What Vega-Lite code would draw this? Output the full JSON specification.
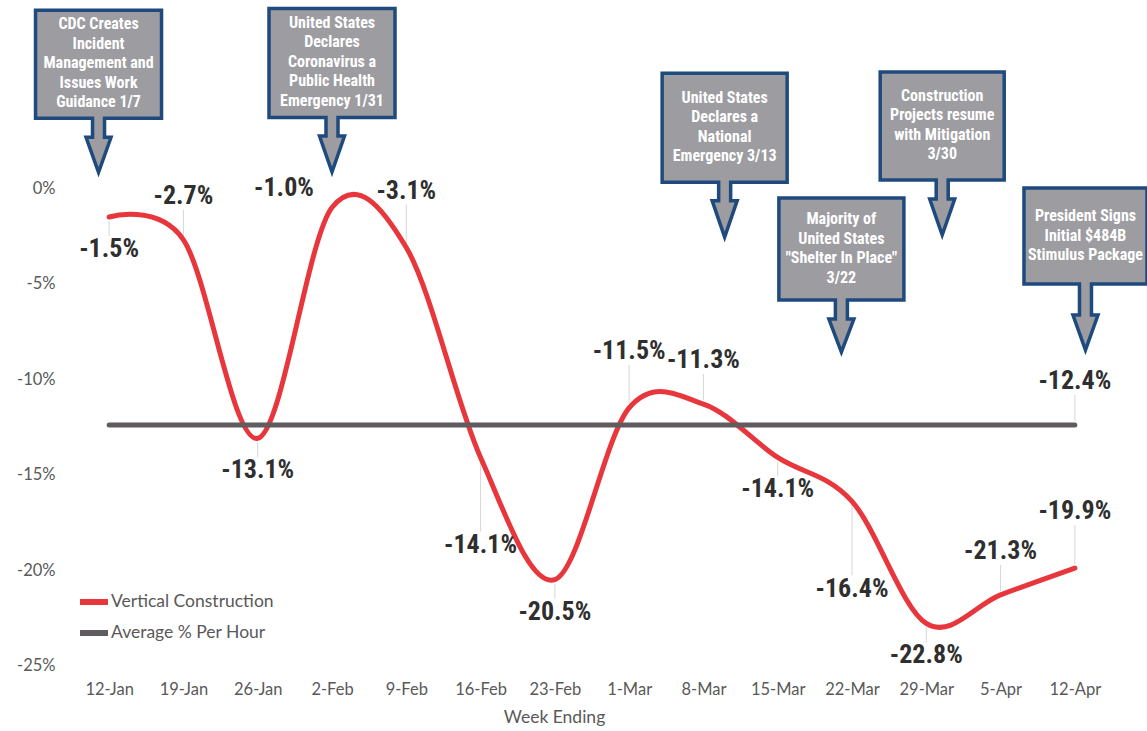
{
  "$schema": "https://vega.github.io/schema/vega-lite/v6.json",
  "width": 1040,
  "height": 675,
  "autosize": {"type": "none"},
  "padding": {"left": 72, "top": 0, "right": 35, "bottom": 56},
  "background": "white",
  "config": {"view": {"stroke": null}, "font": "Lato"},
  "datasets": {
    "series": [
      {"week": "2020/01/12", "series": "Vertical Construction", "value": -1.5, "label": "-1.5%", "side": "below"},
      {"week": "2020/01/19", "series": "Vertical Construction", "value": -2.7, "label": "-2.7%", "side": "above"},
      {"week": "2020/01/26", "series": "Vertical Construction", "value": -13.1, "label": "-13.1%", "side": "below"},
      {"week": "2020/02/02", "series": "Vertical Construction", "value": -1.0, "label": "-1.0%", "side": "left"},
      {"week": "2020/02/09", "series": "Vertical Construction", "value": -3.1, "label": "-3.1%", "side": "high"},
      {"week": "2020/02/16", "series": "Vertical Construction", "value": -14.1, "label": "-14.1%", "side": "farBelow"},
      {"week": "2020/02/23", "series": "Vertical Construction", "value": -20.5, "label": "-20.5%", "side": "below"},
      {"week": "2020/03/01", "series": "Vertical Construction", "value": -11.5, "label": "-11.5%", "side": "high"},
      {"week": "2020/03/08", "series": "Vertical Construction", "value": -11.3, "label": "-11.3%", "side": "above"},
      {"week": "2020/03/15", "series": "Vertical Construction", "value": -14.1, "label": "-14.1%", "side": "below"},
      {"week": "2020/03/22", "series": "Vertical Construction", "value": -16.4, "label": "-16.4%", "side": "farBelow"},
      {"week": "2020/03/29", "series": "Vertical Construction", "value": -22.8, "label": "-22.8%", "side": "below"},
      {"week": "2020/04/05", "series": "Vertical Construction", "value": -21.3, "label": "-21.3%", "side": "above"},
      {"week": "2020/04/12", "series": "Vertical Construction", "value": -19.9, "label": "-19.9%", "side": "high"},
      {"week": "2020/01/12", "series": "Average % Per Hour", "value": -12.4, "label": null, "side": null},
      {"week": "2020/01/19", "series": "Average % Per Hour", "value": -12.4, "label": null, "side": null},
      {"week": "2020/01/26", "series": "Average % Per Hour", "value": -12.4, "label": null, "side": null},
      {"week": "2020/02/02", "series": "Average % Per Hour", "value": -12.4, "label": null, "side": null},
      {"week": "2020/02/09", "series": "Average % Per Hour", "value": -12.4, "label": null, "side": null},
      {"week": "2020/02/16", "series": "Average % Per Hour", "value": -12.4, "label": null, "side": null},
      {"week": "2020/02/23", "series": "Average % Per Hour", "value": -12.4, "label": null, "side": null},
      {"week": "2020/03/01", "series": "Average % Per Hour", "value": -12.4, "label": null, "side": null},
      {"week": "2020/03/08", "series": "Average % Per Hour", "value": -12.4, "label": null, "side": null},
      {"week": "2020/03/15", "series": "Average % Per Hour", "value": -12.4, "label": null, "side": null},
      {"week": "2020/03/22", "series": "Average % Per Hour", "value": -12.4, "label": null, "side": null},
      {"week": "2020/03/29", "series": "Average % Per Hour", "value": -12.4, "label": null, "side": null},
      {"week": "2020/04/05", "series": "Average % Per Hour", "value": -12.4, "label": null, "side": null},
      {"week": "2020/04/12", "series": "Average % Per Hour", "value": -12.4, "label": "-12.4%", "side": "above"}
    ],
    "notes": [
      {"id": "a1", "week": "2020/01/11", "value": 6.5, "text": "CDC Creates\nIncident\nManagement and\nIssues Work\nGuidance 1/7"},
      {"id": "a2", "week": "2020/02/02", "value": 6.57, "text": "United States\nDeclares\nCoronavirus a\nPublic Health\nEmergency 1/31"},
      {"id": "a3", "week": "2020/03/10", "value": 3.18, "text": "United States\nDeclares a\nNational\nEmergency 3/13"},
      {"id": "a4", "week": "2020/03/21", "value": -3.18, "text": "Majority of\nUnited States\n\"Shelter In Place\"\n3/22"},
      {"id": "a5", "week": "2020/03/30 12:00", "value": 3.27, "text": "Construction\nProjects resume\nwith Mitigation\n3/30"},
      {"id": "a6", "week": "2020/04/13", "value": -2.5, "text": "President Signs\nInitial $484B\nStimulus Package"}
    ]
  },
  "encoding": {
    "x": {
      "field": "week",
      "type": "temporal",
      "scale": {
        "domain": [
          {"year": 2020, "month": 1, "date": 8, "hours": 12},
          {"year": 2020, "month": 4, "date": 15, "hours": 12}
        ]
      },
      "axis": {
        "values": [
          {"year": 2020, "month": 1, "date": 12},
          {"year": 2020, "month": 1, "date": 19},
          {"year": 2020, "month": 1, "date": 26},
          {"year": 2020, "month": 2, "date": 2},
          {"year": 2020, "month": 2, "date": 9},
          {"year": 2020, "month": 2, "date": 16},
          {"year": 2020, "month": 2, "date": 23},
          {"year": 2020, "month": 3, "date": 1},
          {"year": 2020, "month": 3, "date": 8},
          {"year": 2020, "month": 3, "date": 15},
          {"year": 2020, "month": 3, "date": 22},
          {"year": 2020, "month": 3, "date": 29},
          {"year": 2020, "month": 4, "date": 5},
          {"year": 2020, "month": 4, "date": 12}
        ],
        "format": "%-d-%b",
        "labelAngle": 0,
        "labelFont": "Lato",
        "labelFontSize": 16.5,
        "labelColor": "#595959",
        "labelPadding": 6,
        "labelFlush": false,
        "labelOverlap": false,
        "ticks": false,
        "domain": false,
        "grid": false,
        "title": "Week Ending",
        "titleFont": "Lato",
        "titleFontSize": 17.5,
        "titleFontWeight": "normal",
        "titleColor": "#595959",
        "titlePadding": 11,
        "titleX": 482
      }
    },
    "y": {
      "field": "value",
      "type": "quantitative",
      "scale": {"domain": [-25.5, 9.87], "nice": false, "zero": false},
      "axis": {
        "values": [-25, -20, -15, -10, -5, 0],
        "labelExpr": "datum.value + '%'",
        "labelFont": "Lato",
        "labelFontSize": 16.5,
        "labelColor": "#595959",
        "labelPadding": 17,
        "ticks": false,
        "domain": false,
        "grid": false,
        "title": null
      }
    }
  },
  "layer": [
    {
      "data": {"name": "series"},
      "transform": [{"filter": "datum.side === 'below'"}],
      "mark": {"type": "rule", "color": "#d6d6d6", "strokeWidth": 1, "yOffset": 4, "y2Offset": 19},
      "encoding": {"y2": {"field": "value"}}
    },
    {
      "data": {"name": "series"},
      "transform": [{"filter": "datum.side === 'farBelow'"}],
      "mark": {"type": "rule", "color": "#d6d6d6", "strokeWidth": 1, "yOffset": 4, "y2Offset": 74},
      "encoding": {"y2": {"field": "value"}}
    },
    {
      "data": {"name": "series"},
      "transform": [{"filter": "datum.side === 'above'"}],
      "mark": {"type": "rule", "color": "#d6d6d6", "strokeWidth": 1, "yOffset": -4, "y2Offset": -30},
      "encoding": {"y2": {"field": "value"}}
    },
    {
      "data": {"name": "series"},
      "transform": [{"filter": "datum.side === 'high'"}],
      "mark": {"type": "rule", "color": "#d6d6d6", "strokeWidth": 1, "yOffset": -4, "y2Offset": -43},
      "encoding": {"y2": {"field": "value"}}
    },
    {
      "data": {"name": "series"},
      "transform": [{"filter": "datum.series === 'Vertical Construction'"}],
      "mark": {"type": "line", "interpolate": "cardinal", "strokeWidth": 5, "strokeCap": "round"},
      "encoding": {
        "color": {
          "field": "series",
          "type": "nominal",
          "scale": {"domain": ["Vertical Construction", "Average % Per Hour"], "range": ["#e8373c", "#5f5b5e"]},
          "legend": {
            "orient": "none",
            "legendX": 5,
            "legendY": 585,
            "title": null,
            "symbolType": "stroke",
            "symbolStrokeWidth": 6,
            "symbolSize": 784,
            "labelFont": "Lato",
            "labelFontSize": 17.5,
            "labelColor": "#595959",
            "labelOffset": 0,
            "labelLimit": 400,
            "rowPadding": 2
          }
        }
      }
    },
    {
      "data": {"name": "series"},
      "transform": [{"filter": "datum.series === 'Average % Per Hour'"}],
      "mark": {"type": "line", "strokeWidth": 5, "strokeCap": "round"},
      "encoding": {
        "color": {"field": "series", "type": "nominal"}
      }
    },
    {
      "data": {"name": "series"},
      "transform": [{"filter": "datum.side === 'below'"}],
      "mark": {"type": "text", "font": "Roboto Condensed, Liberation Sans Narrow, Roboto", "fontWeight": "bold", "fontSize": 26, "color": "#2f2f2f", "baseline": "middle", "align": "center", "dy": 32},
      "encoding": {"text": {"field": "label"}}
    },
    {
      "data": {"name": "series"},
      "transform": [{"filter": "datum.side === 'farBelow'"}],
      "mark": {"type": "text", "font": "Roboto Condensed, Liberation Sans Narrow, Roboto", "fontWeight": "bold", "fontSize": 26, "color": "#2f2f2f", "baseline": "middle", "align": "center", "dy": 88},
      "encoding": {"text": {"field": "label"}}
    },
    {
      "data": {"name": "series"},
      "transform": [{"filter": "datum.side === 'above'"}],
      "mark": {"type": "text", "font": "Roboto Condensed, Liberation Sans Narrow, Roboto", "fontWeight": "bold", "fontSize": 26, "color": "#2f2f2f", "baseline": "middle", "align": "center", "dy": -44},
      "encoding": {"text": {"field": "label"}}
    },
    {
      "data": {"name": "series"},
      "transform": [{"filter": "datum.side === 'high'"}],
      "mark": {"type": "text", "font": "Roboto Condensed, Liberation Sans Narrow, Roboto", "fontWeight": "bold", "fontSize": 26, "color": "#2f2f2f", "baseline": "middle", "align": "center", "dy": -57},
      "encoding": {"text": {"field": "label"}}
    },
    {
      "data": {"name": "series"},
      "transform": [{"filter": "datum.side === 'left'"}],
      "mark": {"type": "text", "font": "Roboto Condensed, Liberation Sans Narrow, Roboto", "fontWeight": "bold", "fontSize": 26, "color": "#2f2f2f", "baseline": "middle", "align": "center", "dx": -48, "dy": -19},
      "encoding": {"text": {"field": "label"}}
    },
    {
      "data": {"name": "notes"},
      "mark": {"type": "point", "filled": true, "color": "#9d9ca1", "stroke": "#1f4a7e", "strokeWidth": 3.5, "opacity": 1, "fillOpacity": 1, "strokeOpacity": 1, "size": 4},
      "encoding": {
        "shape": {
          "field": "id",
          "type": "nominal",
          "scale": {
            "domain": ["a1", "a2", "a3", "a4", "a5", "a6"],
            "range": [
              "M-63,-54H63V54H6V73H12.5L0,108L-12.5,73H-6V54H-63Z",
              "M-63,-54.5H63V54.5H6V73H12.5L0,109L-12.5,73H-6V54.5H-63Z",
              "M-62.5,-54.5H62.5V54.5H6V73H12.5L0,109.5L-12.5,73H-6V54.5H-62.5Z",
              "M-62.5,-51H62.5V51H6V70H12.5L0,103L-12.5,70H-6V51H-62.5Z",
              "M-62,-54H62V54H6V73H12.5L0,109L-12.5,73H-6V54H-62Z",
              "M-61.5,-48H61.5V48H6V79H12.5L0,114L-12.5,79H-6V48H-61.5Z"
            ]
          },
          "legend": null
        }
      }
    },
    {
      "data": {"name": "notes"},
      "transform": [{"filter": "split(datum.text, '\\n').length === 5"}],
      "mark": {"type": "text", "font": "Roboto Condensed, Liberation Sans Narrow, Roboto", "fontWeight": "bold", "fontSize": 16, "color": "white", "lineHeight": 19.5, "lineBreak": "\n", "align": "center", "baseline": "middle", "dy": -40},
      "encoding": {"text": {"field": "text"}}
    },
    {
      "data": {"name": "notes"},
      "transform": [{"filter": "split(datum.text, '\\n').length === 4"}],
      "mark": {"type": "text", "font": "Roboto Condensed, Liberation Sans Narrow, Roboto", "fontWeight": "bold", "fontSize": 16, "color": "white", "lineHeight": 19.5, "lineBreak": "\n", "align": "center", "baseline": "middle", "dy": -30},
      "encoding": {"text": {"field": "text"}}
    },
    {
      "data": {"name": "notes"},
      "transform": [{"filter": "split(datum.text, '\\n').length === 3"}],
      "mark": {"type": "text", "font": "Roboto Condensed, Liberation Sans Narrow, Roboto", "fontWeight": "bold", "fontSize": 16, "color": "white", "lineHeight": 19.5, "lineBreak": "\n", "align": "center", "baseline": "middle", "dy": -20},
      "encoding": {"text": {"field": "text"}}
    }
  ]
}
